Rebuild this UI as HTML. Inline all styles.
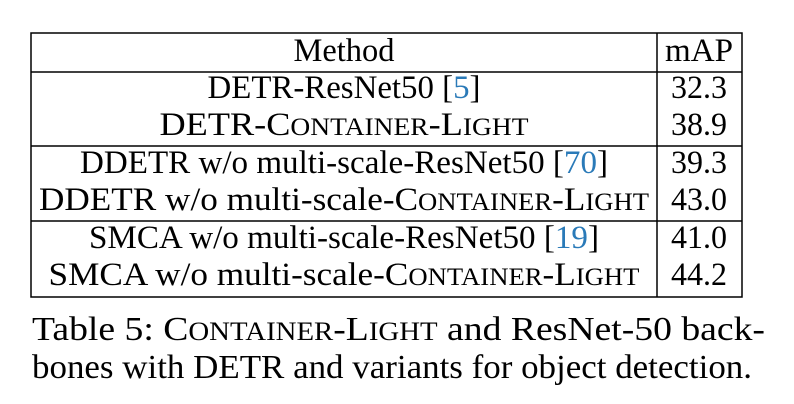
<!DOCTYPE html>
<html><head><meta charset="utf-8"><style>
html,body{margin:0;padding:0;background:#fff;}
svg{display:block;}
text{font-family:"Liberation Serif",serif;fill:#000;}
.c{fill:#2a7ab8;}
</style></head><body>
<svg width="794" height="404" viewBox="0 0 794 404">
<g stroke="#000" stroke-width="1.5">
<rect x="31" y="33" width="711" height="264" fill="none"/>
<line x1="657" y1="33" x2="657" y2="297"/>
<line x1="31" y1="72" x2="742" y2="72"/>
<line x1="31" y1="146" x2="742" y2="146"/>
<line x1="31" y1="221" x2="742" y2="221"/>
</g>
<g font-size="33" text-anchor="middle" lengthAdjust="spacingAndGlyphs">
<text x="344" y="61" textLength="101" lengthAdjust="spacingAndGlyphs">Method</text>
<text x="699" y="61" textLength="68" lengthAdjust="spacingAndGlyphs">mAP</text>
<text x="344" y="98" textLength="273" lengthAdjust="spacingAndGlyphs">DETR-ResNet50 [<tspan class="c">5</tspan>]</text>
<text x="344" y="135" textLength="369" lengthAdjust="spacingAndGlyphs">DETR-C<tspan font-size="25">ONTAINER</tspan>-L<tspan font-size="25">IGHT</tspan></text>
<text x="344" y="173" textLength="528" lengthAdjust="spacingAndGlyphs">DDETR w/o multi-scale-ResNet50 [<tspan class="c">70</tspan>]</text>
<text x="344" y="210" textLength="610" lengthAdjust="spacingAndGlyphs">DDETR w/o multi-scale-C<tspan font-size="25">ONTAINER</tspan>-L<tspan font-size="25">IGHT</tspan></text>
<text x="344" y="248" textLength="510" lengthAdjust="spacingAndGlyphs">SMCA w/o multi-scale-ResNet50 [<tspan class="c">19</tspan>]</text>
<text x="344" y="285" textLength="591" lengthAdjust="spacingAndGlyphs">SMCA w/o multi-scale-C<tspan font-size="25">ONTAINER</tspan>-L<tspan font-size="25">IGHT</tspan></text>
<text x="699" y="98" textLength="56" lengthAdjust="spacingAndGlyphs">32.3</text>
<text x="699" y="135" textLength="56" lengthAdjust="spacingAndGlyphs">38.9</text>
<text x="699" y="173" textLength="56" lengthAdjust="spacingAndGlyphs">39.3</text>
<text x="699" y="210" textLength="56" lengthAdjust="spacingAndGlyphs">43.0</text>
<text x="699" y="248" textLength="56" lengthAdjust="spacingAndGlyphs">41.0</text>
<text x="699" y="285" textLength="56" lengthAdjust="spacingAndGlyphs">44.2</text>
</g>
<g font-size="34">
<text x="32" y="340" textLength="733" lengthAdjust="spacingAndGlyphs">Table 5: C<tspan font-size="26">ONTAINER</tspan>-L<tspan font-size="26">IGHT</tspan> and ResNet-50 back-</text>
<text x="32" y="378" textLength="720" lengthAdjust="spacingAndGlyphs">bones with DETR and variants for object detection.</text>
</g>
</svg>
</body></html>
